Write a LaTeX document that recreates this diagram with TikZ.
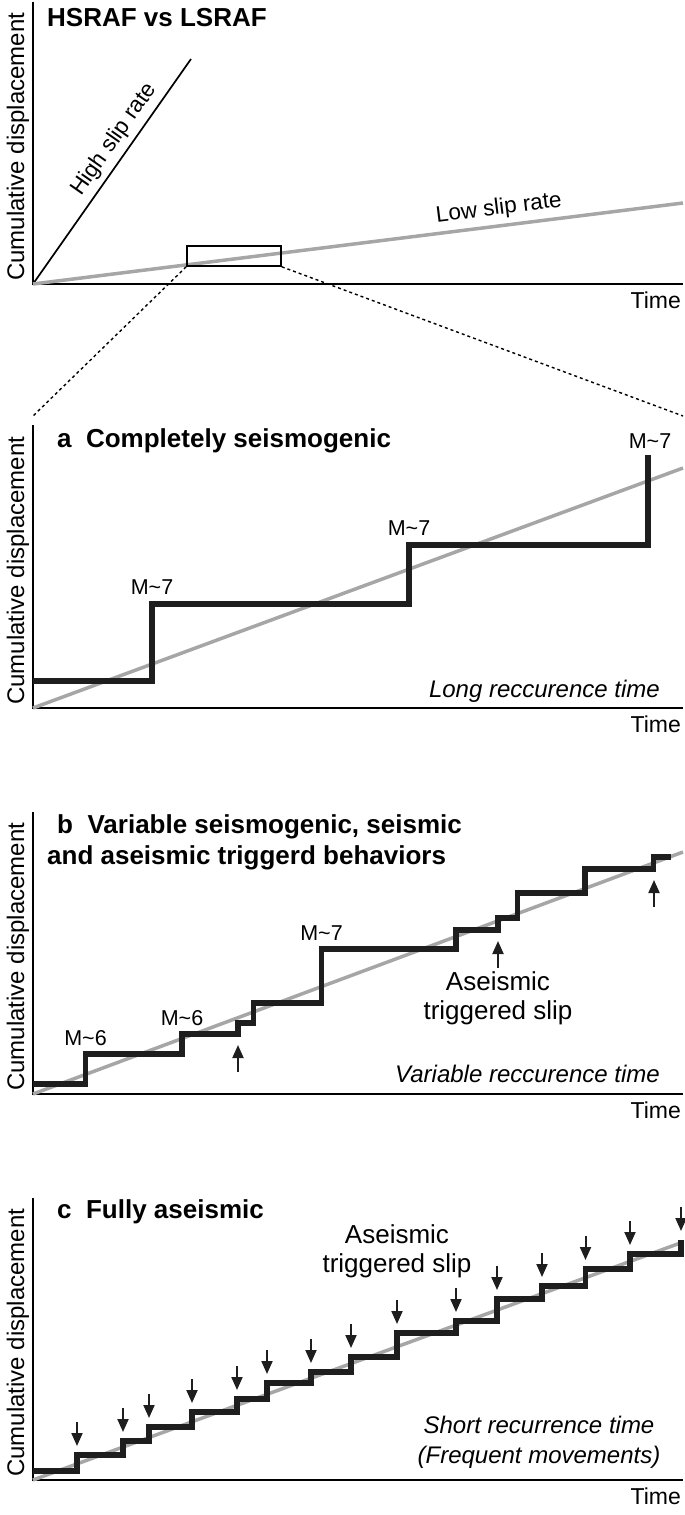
\documentclass[tikz,border=0pt]{standalone}
\usepackage{fontspec}
\setmainfont{Liberation Sans}
\usepackage{tikz}
\definecolor{ratecolor}{RGB}{166, 166, 166}
\definecolor{stepcolor}{RGB}{30, 30, 30}
\usetikzlibrary{arrows.meta, positioning}

\begin{document}
\begin{tikzpicture}[x=1pt, y=-1pt,
    axis/.style={line width=1.8pt},
    ylabel/.style={rotate=90, anchor=base west, inner sep=0pt, font=\fontsize{24}{28}\selectfont},
    tlabel/.style={anchor=base east, inner sep=0pt, font=\fontsize{23}{28}\selectfont},
    ptitle/.style={anchor=base west, inner sep=0pt, font=\fontsize{26}{30}\selectfont\bfseries},
    ratelabel/.style={sloped, inner sep=0pt, font=\fontsize{22.5}{26}\selectfont},
    rateline/.style={draw=ratecolor, line width=3.5pt},
    stair/.style={draw=stepcolor, line width=5.5pt},
    mag/.style={anchor=base, inner sep=0pt, font=\fontsize{21.5}{25}\selectfont},
    note/.style={inner sep=0pt, font=\fontsize{24}{28}\selectfont\itshape},
    slip/.style={anchor=base, inner sep=0pt, font=\fontsize{26}{30}\selectfont},
    trig/.style={-{Triangle[length=13pt, width=11pt]}, line width=2pt, draw=stepcolor, fill=stepcolor},
    zoomline/.style={dash pattern=on 3pt off 3pt, line width=1.4pt}
]
    \useasboundingbox (0,0) rectangle (685,1515);

    % HSRAF vs LSRAF
    \draw[axis] (33,2) -- (33,284) -- (683,284);
    \node[ylabel] (ylab0) at (24,281) {Cumulative displacement};
    \node[tlabel] (time0) at (681,308) {Time};
    \node[ptitle] (title0) at (47,26) {HSRAF vs LSRAF};
    \draw[line width=1.7pt] (33,284) -- (191,59)
        node[ratelabel, pos=0.6, above=5pt] (high) {High slip rate};
    \draw[rateline] (33,284) -- (683,203)
        node[ratelabel, pos=0.72, above=5pt] (low) {Low slip rate};
    \node[draw, line width=1.6pt, minimum width=94pt, minimum height=20pt, inner sep=0pt] (zoombox) at (234,256) {};
    \coordinate (zoomleft) at (33,416);
    \coordinate (zoomright) at (683,416);
    \draw[zoomline] (zoombox.south west) -- (zoomleft);
    \draw[zoomline] (zoombox.south east) -- (zoomright);

    % a Completely seismogenic
    \draw[axis] (33,425) -- (33,708) -- (683,708);
    \node[ylabel] (ylaba) at (24,705) {Cumulative displacement};
    \node[tlabel] (timea) at (681,732) {Time};
    \node[ptitle] (titlea) at (57,447) {a~~Completely seismogenic};
    \draw[rateline] (33,708) -- (683,468);
    \draw[stair] (33,681) -| (152,604) -| (409,545) -| (648,455);
    \node[mag] (maga1) at (152,594) {M\textasciitilde 7};
    \node[mag] (maga2) at (409,535) {M\textasciitilde 7};
    \node[mag] (maga3) at (650,448) {M\textasciitilde 7};
    \node[note, anchor=base east] (longrec) at (660,697) {Long reccurence time};

    % b Variable behaviors
    \draw[axis] (33,812) -- (33,1094) -- (683,1094);
    \node[ylabel] (ylabb) at (24,1091) {Cumulative displacement};
    \node[tlabel] (timeb) at (681,1118) {Time};
    \node[ptitle] (titleb) at (57,833) {b~~Variable seismogenic, seismic};
    \node[ptitle] (titleb2) at (47,864) {and aseismic triggerd behaviors};
    \draw[rateline] (33,1094) -- (683,852);
    \draw[stair] (33,1084) -| (85.5,1054) -| (182,1034) -| (238,1023) -| (253.5,1003)
        -| (321.5,949) -| (456,930) -| (498,918) -| (517.5,893) -| (585,869)
        -| (653.5,857) -- (671,857);
    \node[mag] (magb1) at (85.5,1045) {M\textasciitilde 6};
    \node[mag] (magb2) at (182,1025) {M\textasciitilde 6};
    \node[mag] (magb3) at (321.5,940) {M\textasciitilde 7};
    \foreach \x/\y in {238/1034, 498/930, 654/869}
        \draw[trig] (\x,\y+38) -- (\x,\y+11);
    \node[slip] (aseisb) at (498,990) {Aseismic};
    \node[slip] (trigb) at (498,1019) {triggered slip};
    \node[note, anchor=base east] (varrec) at (660,1082) {Variable reccurence time};

    % c Fully aseismic
    \draw[axis] (33,1198) -- (33,1480) -- (683,1480);
    \node[ylabel] (ylabc) at (24,1477) {Cumulative displacement};
    \node[tlabel] (timec) at (681,1504) {Time};
    \node[ptitle] (titlec) at (57,1218) {c~~Fully aseismic};
    \draw[rateline] (33,1480) -- (683,1242);
    \draw[stair] (33,1471) foreach \x/\y in {77/1455, 123/1441, 149/1427, 192/1412,
        237/1399, 267/1383, 311/1372, 351/1357, 397/1333, 456/1321, 497/1299,
        542/1286, 585.5/1269, 630/1254, 681/1240} { -| (\x,\y) };
    \foreach \x/\y in {77/1455, 123/1441, 149/1427, 192/1412,
        237/1399, 267/1383, 311/1372, 351/1357, 397/1333, 456/1321, 497/1299,
        542/1286, 585.5/1269, 630/1254, 681/1240}
        \draw[trig] (\x,\y-33) -- (\x,\y-9);
    \node[slip] (aseisc) at (397,1243) {Aseismic};
    \node[slip] (trigc) at (397,1272) {triggered slip};
    \node[note, anchor=base] (shortrec) at (539,1433) {Short recurrence time};
    \node[note, anchor=base] (freqmov) at (539,1463) {(Frequent movements)};
\end{tikzpicture}
\end{document}
